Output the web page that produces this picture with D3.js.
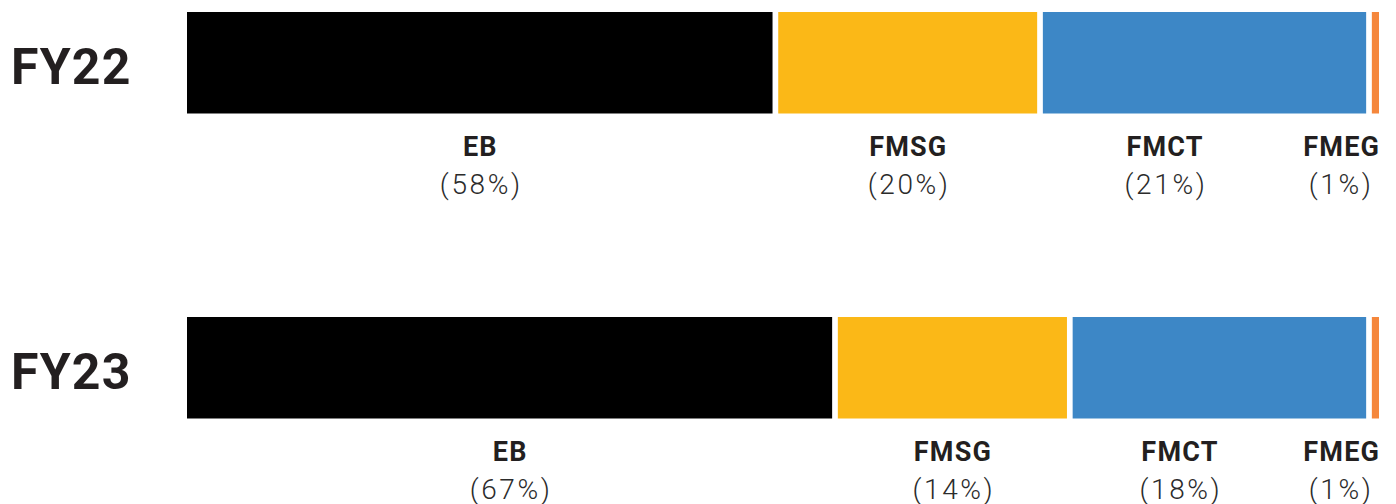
<!DOCTYPE html>
<html>
<head>
<meta charset="utf-8">
<script src="https://cdn.jsdelivr.net/npm/d3@7"></script>
<style>
  html, body { margin: 0; padding: 0; background: #ffffff; }
  svg { display: block; }
</style>
</head>
<body>
<svg id="chart" width="1396" height="504"></svg>
<script>
// ---- data ----
const years = ["FY22", "FY23"];
const segments = ["EB", "FMSG", "FMCT", "FMEG"];
// bar segment shares (as drawn, share of bar length)
const fy22Values = [49.6, 22.2, 27.6, 0.6];
const fy23Values = [54.6, 19.7, 25.1, 0.6];
// percentage labels printed under the bars
const fy22Labels = ["(58%)", "(20%)", "(21%)", "(1%)"];
const fy23Labels = ["(67%)", "(14%)", "(18%)", "(1%)"];
const segmentColors = ["#000000", "#fbb817", "#3d87c6", "#f5873c"];

const valuesByYear = [fy22Values, fy23Values];
const labelsByYear = [fy22Labels, fy23Labels];

// ---- layout ----
const svg = d3.select("#chart");
const barLeft = 187, barRight = 1379;
const gap = 5.7;
const barH = 101.5;

const x = d3.scaleLinear().domain([0, 100]).range([barLeft, barRight]);
const y = d3.scaleOrdinal().domain(years).range([12, 317]);
const color = d3.scaleOrdinal().domain(segments).range(segmentColors);

years.forEach((yr, yi) => {
  const vals = valuesByYear[yi];
  const labs = labelsByYear[yi];
  const stack = [];
  let acc = 0;
  vals.forEach((v, i) => { stack.push({ key: segments[i], x0: acc, x1: acc + v, label: labs[i], i }); acc += v; });

  const top = y(yr);
  const g = svg.append("g");

  // year label
  g.append("text")
    .attr("x", 11)
    .attr("y", top + 71.5)
    .attr("font-family", "Roboto, 'Liberation Sans', sans-serif")
    .attr("font-weight", 700)
    .attr("font-size", 50)
    .attr("letter-spacing", 1.2)
    .attr("fill", "#231f20")
    .text(yr);

  // segments
  g.selectAll("rect.seg")
    .data(stack)
    .join("rect")
    .attr("class", "seg")
    .attr("x", d => x(d.x0))
    .attr("y", top)
    .attr("width", d => Math.max(1, x(d.x1) - x(d.x0) - (d.i < stack.length - 1 ? gap : 0)))
    .attr("height", barH)
    .attr("fill", d => color(d.key));

  // labels
  const n = stack.length;
  stack.forEach(d => {
    let lx, anchor = "middle";
    const cx = (x(d.x0) + x(d.x1) - (d.i < n - 1 ? gap : 0)) / 2;
    if (d.i === n - 1) { lx = barRight; anchor = "end"; }
    else if (d.i === n - 2) { lx = cx - 40; }
    else { lx = cx; }
    const bottom = top + barH;
    g.append("text")
      .attr("x", d.i === n - 1 ? lx + 1.2 : lx + 0.6)
      .attr("y", bottom + 42.5)
      .attr("text-anchor", anchor)
      .attr("font-family", "Roboto, 'Liberation Sans', sans-serif")
      .attr("font-weight", 700)
      .attr("font-size", 27)
      .attr("letter-spacing", 1.2)
      .attr("fill", "#231f20")
      .text(d.key);
    g.append("text")
      .attr("x", d.i === n - 1 ? lx - 5.5 : lx + 1.5)
      .attr("y", bottom + 80)
      .attr("text-anchor", anchor)
      .attr("font-family", "Roboto, 'Liberation Sans', sans-serif")
      .attr("font-weight", 300)
      .attr("font-size", 28)
      .attr("letter-spacing", 2.6)
      .attr("fill", "#2b2b2b")
      .text(d.label);
  });
});
</script>
</body>
</html>
